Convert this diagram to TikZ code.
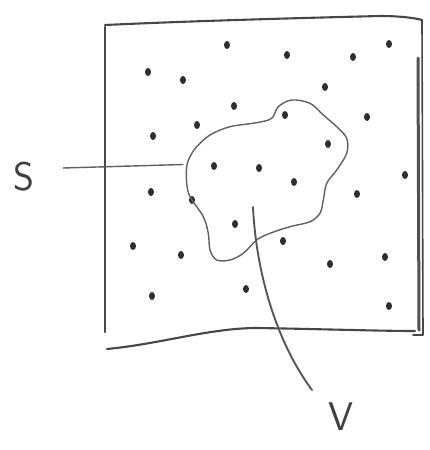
\documentclass[tikz,border=0pt]{standalone}
\begin{document}
\begin{tikzpicture}[x=1pt,y=-1pt,
  pencil/.style={draw=black!72,line width=2.1pt,line cap=round,line join=round},
  thin pencil/.style={draw=black!62,line width=1.4pt,line cap=round},
  dot/.style={fill=black!82,draw=none},
  lab/.style={font=\sffamily\fontsize{40}{40}\selectfont,text=black!75,inner sep=0pt}]
\useasboundingbox (0,0) rectangle (430,450);
\fill[white] (0,0) rectangle (430,450);
% square
\draw[pencil] (105,27) -- (105,332);
\draw[pencil] (105,25) .. controls (190,21) and (300,18) .. (380,16) .. controls (400,16) and (415,18) .. (422,20);
\draw[pencil,line width=1.6pt] (422,20) -- (423,335) -- (413,335);
\draw[pencil,line width=3pt,draw=black!68] (418,58) -- (419,330);
\draw[pencil] (107,349) .. controls (160,344) and (210,328) .. (257,328) .. controls (320,329) and (380,331) .. (415,331);
% dots
\foreach \p in {(227,45),(287,55),(353,57),(389,44),(148,72),(183,80),(325,87),
  (234,106),(285,115),(367,117),(197,125),(153,136),(328,144),(214,166),
  (259,168),(294,182),(405,175),(151,192),(192,200),(357,194),(235,224),
  (283,241),(133,246),(181,255),(385,257),(330,264),(246,289),(152,296),(389,306)}
  \fill[dot] \p ellipse (3pt and 4pt);
% region V
\draw[thin pencil] plot[smooth cycle,tension=0.55] coordinates {
 (186.7,166.7) (190,156.7) (196.7,146.7) (210,135) (230,126.7) (256.7,122.7)
 (271.7,118.3) (278.3,106.7) (291.7,100) (310,103.3) (323.3,115) (336.7,126.7)
 (346.7,138.3) (346.7,153.3) (336.7,170) (326.7,183.3) (323.3,200) (320,213.3)
 (310,221.7) (290,226.7) (270,233.3) (256.7,240) (243.3,253.3) (230,260)
 (216.7,260) (210,250) (208.3,233.3) (203.3,216.7) (190,196.7) (186.7,183.3)};
% labels
\node[lab] (S) at (24,177) {S};
\node[lab] (V) at (341,417) {V};
\coordinate (Sb) at (183,164.5);
\coordinate (Vs) at (253,207);
\coordinate (Ve) at (312,390);
\draw[thin pencil] (63,168) -- (Sb);
\draw[thin pencil,line width=1.9pt,draw=black!66] (Vs) .. controls (256,270) and (275,340) .. (Ve);
\end{tikzpicture}
\end{document}
